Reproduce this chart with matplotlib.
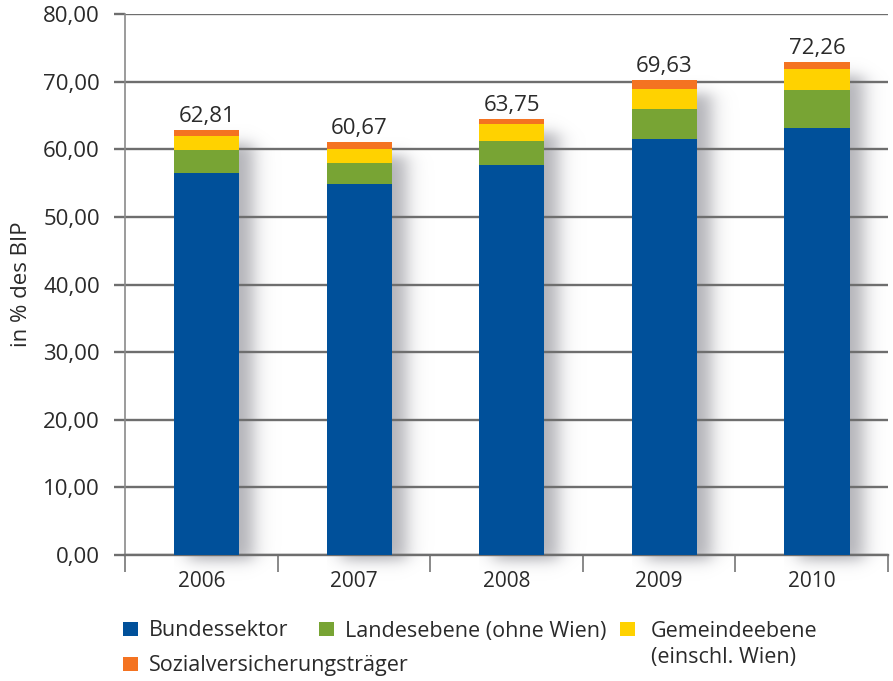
import matplotlib
matplotlib.use("Agg")
import matplotlib.pyplot as plt
from matplotlib.patches import Rectangle
import numpy as np

years = ["2006", "2007", "2008", "2009", "2010"]
bund = [56.5, 54.9, 57.7, 61.5, 63.1]
land = [3.35, 3.05, 3.55, 4.45, 5.6]
gem = [2.05, 2.05, 2.5, 2.95, 3.1]
sozial = [1.0, 1.05, 0.75, 1.3, 1.1]
totals = ["62,81", "60,67", "63,75", "69,63", "72,26"]
series_names = ["Bundessektor", "Landesebene (ohne Wien)", "Gemeindeebene\n(einschl. Wien)", "Sozialversicherungsträger"]
colors = ["#00509a", "#78a434", "#ffd200", "#f47321"]
yticks = np.arange(0, 81, 10)

plt.rcParams['font.family'] = ['Open Sans', 'DejaVu Sans']
TXT = "#2a2a2a"
GRID = "#6e6e6e"
W, H = 893, 681
fig = plt.figure(figsize=(W/100, H/100), dpi=100)
L, R, T, B = 125, 888, 14, 555
ax = fig.add_axes([L/W, 1-B/H, (R-L)/W, (B-T)/H])
ax.set_xlim(-0.5, 4.5)
ax.set_ylim(0, 80)

pxx = 5.0 / (R - L)       # data x per pixel
pxy = 80.0 / (B - T)      # data y per pixel

x = np.arange(len(years)) + 0.035
w = 0.428
series = [bund, land, gem, sozial]
tops = np.sum(series, axis=0)

# soft blurred shadow behind each bar
def soft(v, a, b, s):
    return 0.5 * (np.tanh((v - a) / s) - np.tanh((v - b) / s))

for i, t in enumerate(tops):
    left = x[i] - w/2
    top_px = t / pxy
    xs = np.arange(0, 65 + 60)
    ys = np.arange(-30, top_px + 5)
    fx = soft(xs, 14, 65 + 14, 11)
    fy = soft(ys, -6, top_px - 14, 8)
    alpha = 0.66 * np.outer(fy[::-1], fx)
    img = np.zeros(alpha.shape + (4,))
    img[..., 0] = 0x8a/255
    img[..., 1] = 0x8a/255
    img[..., 2] = 0x92/255
    img[..., 3] = alpha
    ax.imshow(img, extent=(left, left + len(xs)*pxx, -30*pxy, (top_px + 5)*pxy),
              aspect="auto", zorder=0.3, clip_on=False, interpolation="bilinear")

bottom = np.zeros(len(years))
for vals, c in zip(series, colors):
    ax.bar(x, vals, w, bottom=bottom, color=c, zorder=3, linewidth=0)
    bottom += np.array(vals)

for i, t in enumerate(tops):
    ax.text(x[i], t + 0.45, totals[i], ha="center", va="bottom", fontsize=16, color=TXT, zorder=4)

ax.set_xlim(-0.5, 4.5)
ax.set_ylim(0, 80)
ax.set_yticks(yticks)
ax.set_yticklabels([f"{v:.2f}".replace(".", ",") for v in yticks], fontsize=16, color=TXT)
ax.yaxis.grid(True, color=GRID, linewidth=1.7, zorder=0.5)
ax.set_axisbelow(True)
ax.tick_params(axis="y", length=8, width=1.7, color=GRID, pad=10)

ax.set_xticks(np.arange(-0.5, 5, 1))
ax.set_xticklabels([])
ax.tick_params(axis="x", length=12, width=1.3, color="#808080")
for i, yr in enumerate(years):
    ax.text(i, -2.4, yr, ha="center", va="top", fontsize=15, color=TXT)

for s in ["top", "right"]:
    ax.spines[s].set_visible(False)
ax.spines["left"].set_color("#8a8a8a")
ax.spines["left"].set_linewidth(1.2)
ax.spines["bottom"].set_color(GRID)
ax.spines["bottom"].set_linewidth(1.7)

ax.set_ylabel("in % des BIP", fontsize=16, color=TXT, labelpad=8)

# legend
legend_pos = [(123, 622, 149, 631), (319, 622, 345, 631), (620, 622, 651, 621), (123, 657, 149, 665)]
for (sx, sy, tx, ty), c, name in zip(legend_pos, colors, series_names):
    fig.patches.append(Rectangle((sx/W, 1-(sy+14)/H), 15/W, 14/H, transform=fig.transFigure,
                                 facecolor=c, edgecolor="none"))
    if "\n" in name:
        fig.text(tx/W, 1-ty/H, name, ha="left", va="top", fontsize=15.5, color=TXT, linespacing=1.32)
    else:
        fig.text(tx/W, 1-ty/H, name, ha="left", va="center", fontsize=15.5, color=TXT)

fig.savefig("out.png", dpi=100)
